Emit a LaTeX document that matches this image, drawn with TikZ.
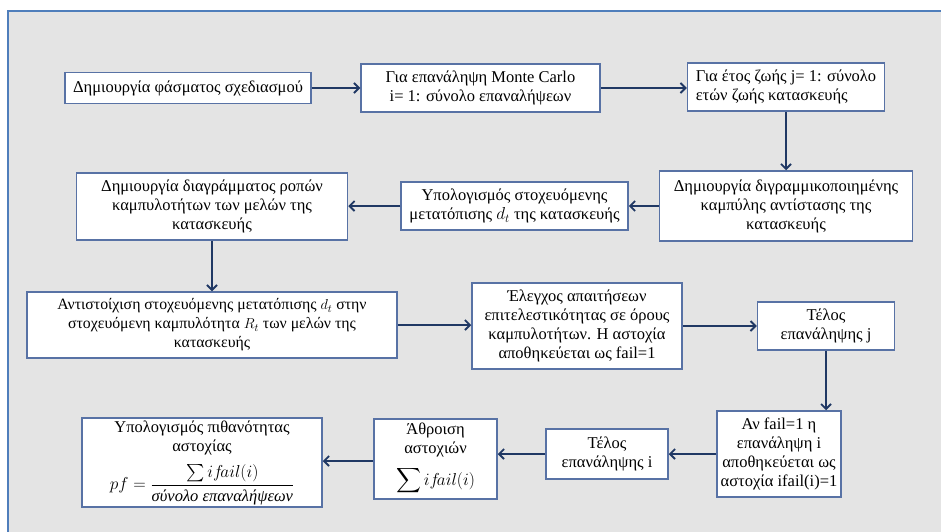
\documentclass[tikz,border=0pt]{standalone}
\usepackage{amsmath}
\usepackage{fontspec}
\setmainfont{Liberation Serif}
\usetikzlibrary{arrows.meta}
\definecolor{panelbg}{RGB}{228,228,228}
\definecolor{panelline}{RGB}{79,126,187}
\definecolor{boxline}{RGB}{88,114,165}
\definecolor{arrowc}{RGB}{32,56,100}
\tikzset{
  box/.style={draw=boxline, fill=white, line width=1.5pt, inner sep=0pt, align=center,
    font=\fontsize{16.5}{19}\selectfont},
  conn/.style={draw=arrowc, line width=1.8pt, -{Straight Barb[length=5pt,width=10pt]}}
}
\begin{document}
\begin{tikzpicture}[x=1pt,y=-1pt]
\useasboundingbox (0,0) rectangle (941,531);
\fill[white] (0,0) rectangle (941,531);
\draw[panelline, fill=panelbg, line width=1.4pt] (8,11) rectangle (950,540);
\node[box, minimum width=246pt, minimum height=31pt] (b1) at (188,88) {Δημιουργία φάσματος σχεδιασμού};
\node[box, minimum width=239pt, minimum height=48pt] (b2) at (480.5,88) {Για επανάληψη Monte Carlo\\ i= 1: σύνολο επαναλήψεων};
\node[box, minimum width=197pt, minimum height=48pt, align=left] (b3) at (786,87) {Για έτος ζωής j= 1: σύνολο\\ ετών ζωής κατασκευής};
\node[box, minimum width=253pt, minimum height=70pt] (b4) at (786,206) {Δημιουργία διγραμμικοποιημένης\\ καμπύλης αντίστασης της\\ κατασκευής};
\node[box, minimum width=227pt, minimum height=48pt] (b5) at (514.5,206) {Υπολογισμός στοχευόμενης\\ μετατόπισης $d_t$ της κατασκευής};
\node[box, minimum width=271pt, minimum height=67pt] (b6) at (212,206.5) {Δημιουργία διαγράμματος ροπών\\ καμπυλοτήτων των μελών της\\ κατασκευής};
\node[box, minimum width=370pt, minimum height=66pt, font=\fontsize{15.8}{19}\selectfont] (b7) at (212,325) {Αντιστοίχιση στοχευόμενης μετατόπισης $d_t$ στην\\ στοχευόμενη καμπυλότητα $R_t$ των μελών της\\ κατασκευής};
\node[box, minimum width=210pt, minimum height=86pt] (b8) at (577,326) {Έλεγχος απαιτήσεων\\ επιτελεστικότητας σε όρους\\ καμπυλοτήτων. Η αστοχία\\ αποθηκεύεται ως fail=1};
\node[box, minimum width=137pt, minimum height=48pt] (b9) at (826,326) {Τέλος\\ επανάληψης j};
\node[box, minimum width=124pt, minimum height=86pt] (b10) at (779,454) {Αν fail=1 η\\ επανάληψη i\\ αποθηκεύεται ως\\ αστοχία ifail(i)=1};
\node[box, minimum width=122pt, minimum height=50pt] (b11) at (607,454) {Τέλος\\ επανάληψης i};
\node[box, minimum width=123pt, minimum height=80pt] (b12) at (435.5,459) {Άθροιση\\ αστοχιών\\[9pt] $\displaystyle\sum if\!ail(i)$};
\node[box, minimum width=240pt, minimum height=89pt] (b13) at (202,462.5) {Υπολογισμός πιθανότητας\\ αστοχίας\\[9pt] $pf=\dfrac{\sum if\!ail(i)}{\textit{σύνολο επαναλήψεων}}$};
\draw[conn] (b1.east) -- (b1.east -| b2.west);
\draw[conn] (b2.east) -- (b2.east -| b3.west);
\draw[conn] (b3.south) -- (b4.north);
\draw[conn] (b4.west) -- (b4.west -| b5.east);
\draw[conn] (b5.west) -- (b5.west -| b6.east);
\draw[conn] (b6.south) -- (b6.south |- b7.north);
\draw[conn] (b7.east) -- (b7.east -| b8.west);
\draw[conn] (b8.east) -- (b8.east -| b9.west);
\draw[conn] (b9.south) -- (b9.south |- b10.north);
\draw[conn] (b10.west) -- (b10.west -| b11.east);
\draw[conn] (b11.west) -- (b11.west -| b12.east);
\draw[conn] ([yshift=-2pt]b12.west) -- ([yshift=-2pt]b12.west -| b13.east);
\end{tikzpicture}
\end{document}
